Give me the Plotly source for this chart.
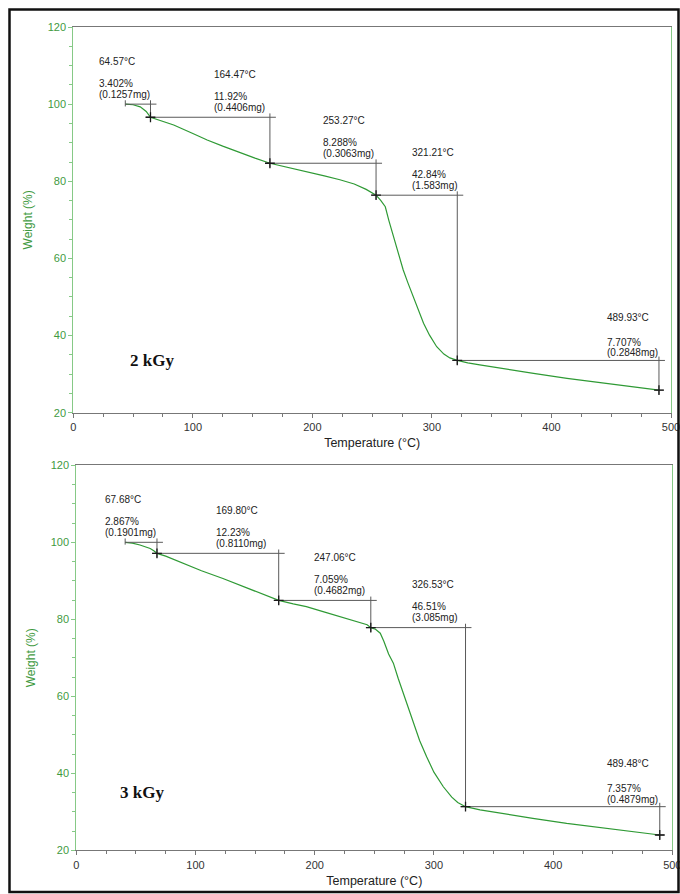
import plotly.graph_objects as go

# ---- 2 kGy sample: TGA curve ----
temp_2kgy = [43.5, 50, 56, 61, 64.57, 70, 84, 100, 112, 125, 140, 152, 164.47, 180, 195, 210,
             223, 235, 245, 250, 253.27, 257, 261, 264, 268, 272, 276, 280, 284.5, 289, 293,
             298, 304, 310, 315, 321.21, 330, 340, 357, 385, 413, 440, 469, 489.93]
weight_2kgy = [100.0, 99.85, 99.3, 98.1, 96.598, 96.0, 94.6, 92.4, 90.7, 89.1, 87.3, 86.0, 84.678,
               83.6, 82.5, 81.4, 80.4, 79.3, 77.9, 77.1, 76.39, 75.1, 73.4, 69.8, 65.6, 61.2, 57.0,
               53.6, 50.1, 46.5, 43.2, 40.1, 37.1, 35.2, 34.2, 33.552, 32.9, 32.4, 31.5, 30.2, 28.9,
               27.8, 26.7, 25.845]
onset_2kgy = 43.5
step_end_2kgy = [64.57, 164.47, 253.27, 321.21, 489.93]
loss_pct_2kgy = [3.402, 11.92, 8.288, 42.84, 7.707]
loss_mg_2kgy = [0.1257, 0.4406, 0.3063, 1.583, 0.2848]

# ---- 3 kGy sample: TGA curve ----
temp_3kgy = [41, 47, 53.4, 58, 62, 65, 67.68, 75, 90, 105, 123, 137, 151, 160, 169.8, 182, 193,
             207, 221, 235, 244, 247.06, 251, 255, 258, 262, 266, 270, 274.3, 278.5, 282.7, 288,
             293.9, 300, 307.9, 315, 320, 326.53, 338.7, 355.5, 383, 411.4, 440, 467.3, 489.48]
weight_3kgy = [100.0, 99.8, 99.3, 98.9, 98.4, 97.8, 97.133, 96.4, 94.5, 92.6, 90.6, 88.9, 87.2,
               86.1, 84.903, 84.0, 83.3, 82.0, 80.7, 79.5, 78.6, 77.844, 77.4, 76.4, 74.3, 71.0,
               68.6, 64.7, 60.8, 56.9, 53.0, 48.5, 44.3, 40.3, 36.5, 33.8, 32.4, 31.334, 30.5,
               29.6, 28.3, 27.0, 25.9, 24.8, 23.977]
onset_3kgy = 41
step_end_3kgy = [67.68, 169.80, 247.06, 326.53, 489.48]
loss_pct_3kgy = [2.867, 12.23, 7.059, 46.51, 7.357]
loss_mg_3kgy = [0.1901, 0.8110, 0.4682, 3.085, 0.4879]

panel_labels = ["2 kGy", "3 kGy"]
x_ticks = [0, 100, 200, 300, 400, 500]
y_ticks = [20, 40, 60, 80, 100, 120]

# where each step's text block starts (temperature units)
label_left_2kgy = [19.8, 116, 207, 282, 444.4]
label_left_3kgy = [22.7, 115.8, 198, 280.2, 443.8]

W, H = 680, 894
CURVE = "#2f9a35"
GREEN_TXT = "#3f9a3f"
GREEN_AX = "#86c986"
BRACKET = "#5a5a5a"
FONT = "Liberation Sans, Arial, sans-serif"

fig = go.Figure()

panels = [
    dict(T=temp_2kgy, Wt=weight_2kgy, onset=onset_2kgy, ends=step_end_2kgy, pct=loss_pct_2kgy,
         mg=loss_mg_2kgy, lx=label_left_2kgy, xa="x", ya="y"),
    dict(T=temp_3kgy, Wt=weight_3kgy, onset=onset_3kgy, ends=step_end_3kgy, pct=loss_pct_3kgy,
         mg=loss_mg_3kgy, lx=label_left_3kgy, xa="x2", ya="y2"),
]

annotations = []
for k, p in enumerate(panels):
    # step levels from the stated losses
    levels = [100.0]
    for v in p["pct"]:
        levels.append(levels[-1] - v)

    fig.add_trace(go.Scatter(x=p["T"], y=p["Wt"], mode="lines",
                             line=dict(color=CURVE, width=1.2),
                             xaxis=p["xa"], yaxis=p["ya"], showlegend=False, hoverinfo="skip"))

    bx, by = [], []
    # onset tick
    bx += [p["onset"], p["onset"], None]
    by += [levels[0] + 1.0, levels[0] - 0.6, None]
    starts = [p["onset"]] + [e - 4 for e in p["ends"][:-1]]
    for i, e in enumerate(p["ends"]):
        top, bot = levels[i], levels[i + 1]
        bx += [starts[i], e + 5, None]
        by += [top, top, None]
        bx += [e, e, None]
        by += [top + 1.0, bot - 1.1, None]
    # closing tick on final level
    bx += [p["ends"][-1] - 3, p["ends"][-1] + 4, None]
    by += [levels[-1], levels[-1], None]
    fig.add_trace(go.Scatter(x=bx, y=by, mode="lines", line=dict(color=BRACKET, width=1),
                             xaxis=p["xa"], yaxis=p["ya"], showlegend=False, hoverinfo="skip"))

    fig.add_trace(go.Scatter(x=p["ends"], y=levels[1:], mode="markers",
                             marker=dict(symbol="cross-thin", size=7,
                                         line=dict(color="#1a1a1a", width=1.3)),
                             xaxis=p["xa"], yaxis=p["ya"], showlegend=False, hoverinfo="skip"))

    for i, e in enumerate(p["ends"]):
        top = levels[i]
        last = i == len(p["ends"]) - 1
        rows = [(f"{e:.2f}°C", -43),
                (f"{p['pct'][i]:.4g}%", -18 if last else -21),
                (f"({p['mg'][i]:.4f}mg)" if p['mg'][i] < 1 else f"({p['mg'][i]:.3f}mg)",
                 -7.5 if last else -10)]
        for txt, dy in rows:
            annotations.append(dict(x=p["lx"][i], y=top, xref=p["xa"], yref=p["ya"],
                                    text=txt, showarrow=False, xanchor="left", yanchor="middle",
                                    yshift=-dy, font=dict(family=FONT, size=10, color="#222")))

# panel dose labels
serif = dict(family="Liberation Serif, Times New Roman, serif", size=17, color="#111")
annotations.append(dict(x=45.9, y=33.5, xref="x", yref="y", text=f"<b>{panel_labels[0]}</b>",
                        showarrow=False, xanchor="left", yanchor="middle", font=serif))
annotations.append(dict(x=35.2, y=34.9, xref="x2", yref="y2", text=f"<b>{panel_labels[1]}</b>",
                        showarrow=False, xanchor="left", yanchor="middle", font=serif))

def xaxis_cfg(domain, anchor):
    return dict(domain=domain, anchor=anchor, range=[0, 500], automargin=False,
                tickmode="array", tickvals=x_ticks, ticktext=[str(v) for v in x_ticks],
                ticklabeloverflow="allow",
                showgrid=False, zeroline=False, showline=True, linecolor="#777", linewidth=1,
                mirror=True, ticks="outside", ticklen=4, tickcolor="#777",
                minor=dict(dtick=25, tick0=0, ticks="outside", ticklen=3, tickcolor="#777"),
                tickfont=dict(family=FONT, size=11, color="#333"),
                title=dict(text="Temperature (°C)", standoff=6,
                           font=dict(family=FONT, size=12.5, color="#222")))

def yaxis_cfg(domain, anchor):
    return dict(domain=domain, anchor=anchor, range=[20, 120], automargin=False,
                tickmode="array", tickvals=y_ticks, ticktext=[str(v) for v in y_ticks],
                showgrid=False, zeroline=False, showline=True, linecolor=GREEN_AX, linewidth=1,
                mirror=True, ticks="outside", ticklen=4, tickcolor=GREEN_AX,
                minor=dict(dtick=5, tick0=20, ticks="outside", ticklen=3, tickcolor=GREEN_AX),
                tickfont=dict(family=FONT, size=11, color=GREEN_TXT),
                title=dict(text="Weight (%)", standoff=12,
                           font=dict(family=FONT, size=12, color=GREEN_TXT)))

fig.update_layout(
    width=W, height=H, margin=dict(l=0, r=0, t=0, b=0),
    paper_bgcolor="white", plot_bgcolor="white",
    xaxis=xaxis_cfg([73.3 / W, 671 / W], "y"),
    yaxis=yaxis_cfg([1 - 412.7 / H, 1 - 27 / H], "x"),
    xaxis2=xaxis_cfg([76.3 / W, 672.3 / W], "y2"),
    yaxis2=yaxis_cfg([1 - 850.3 / H, 1 - 465.3 / H], "x2"),
    annotations=annotations,
    shapes=[dict(type="rect", xref="paper", yref="paper",
                 x0=9.5 / W, x1=678.5 / W, y0=1 - 892 / H, y1=1 - 9.5 / H,
                 line=dict(color="#111", width=2.5), fillcolor="rgba(0,0,0,0)", layer="above")],
)

fig.write_html("out.html")
